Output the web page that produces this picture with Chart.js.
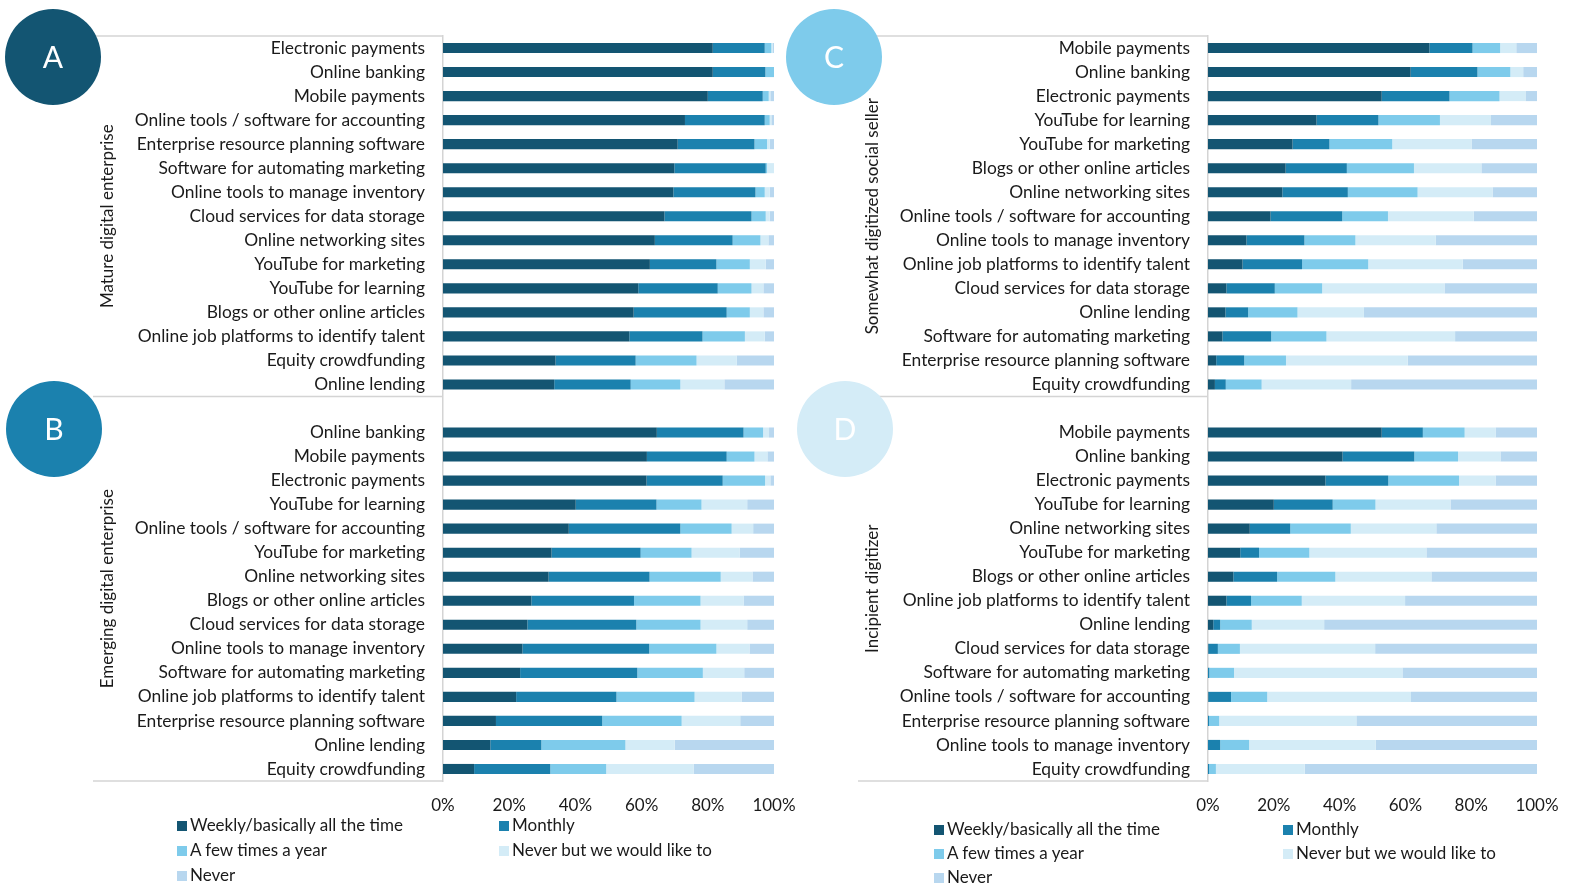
<!DOCTYPE html>
<html>
<head>
<meta charset="utf-8">
<script src="https://cdn.jsdelivr.net/npm/chart.js@4.4.0/dist/chart.umd.min.js"></script>
<style>
  body { margin: 0; background: #fff; width: 1575px; height: 888px; position: relative; overflow: hidden; font-family: Lato, sans-serif; }
  canvas { position: absolute; top: 0; }
  .lg { position: absolute; font-size: 17px; color: #1a1a1a; line-height: 20px; white-space: nowrap; }
  .lg i { display: inline-block; width: 10px; height: 10px; margin-right: 3px; vertical-align: 0px; }
</style>
</head>
<body>
<canvas id="left" width="812" height="888" style="left:0px"></canvas>
<canvas id="right" width="805" height="888" style="left:770px"></canvas>
<div id="legends"></div>
<script>
// series (stack order left to right)
var seriesNames = ['Weekly/basically all the time', 'Monthly', 'A few times a year', 'Never but we would like to', 'Never'];
var seriesColors = ['#135572', '#1b81ae', '#7ecbeb', '#d4ecf7', '#b8d7ef'];
var xTickLabels = ['0%', '20%', '40%', '60%', '80%', '100%'];

// A - Mature digital enterprise
var aCats = ['Electronic payments', 'Online banking', 'Mobile payments', 'Online tools / software for accounting',
  'Enterprise resource planning software', 'Software for automating marketing', 'Online tools to manage inventory',
  'Cloud services for data storage', 'Online networking sites', 'YouTube for marketing', 'YouTube for learning',
  'Blogs or other online articles', 'Online job platforms to identify talent', 'Equity crowdfunding', 'Online lending'];
var aWeekly = [81.5, 81.5, 80.0, 73.1, 70.9, 69.9, 69.6, 66.9, 64.0, 62.5, 59.0, 57.6, 56.3, 34.0, 33.6];
var aMonthly = [15.7, 15.9, 16.6, 24.1, 23.2, 27.6, 24.8, 26.3, 23.5, 20.1, 24.0, 28.1, 22.1, 24.2, 23.1];
var aFew = [2.0, 2.6, 1.8, 1.5, 3.8, 0.4, 2.8, 4.3, 8.4, 10.1, 10.2, 7.0, 12.8, 18.4, 15.0];
var aLike = [0.5, 0, 0.5, 0.5, 0.8, 2.1, 1.5, 1.2, 2.4, 4.8, 3.6, 4.1, 6.0, 12.1, 13.3];
var aNever = [0.3, 0, 1.1, 0.8, 1.3, 0, 1.3, 1.3, 1.7, 2.5, 3.2, 3.2, 2.8, 11.3, 15.0];

// B - Emerging digital enterprise
var bCats = ['Online banking', 'Mobile payments', 'Electronic payments', 'YouTube for learning',
  'Online tools / software for accounting', 'YouTube for marketing', 'Online networking sites',
  'Blogs or other online articles', 'Cloud services for data storage', 'Online tools to manage inventory',
  'Software for automating marketing', 'Online job platforms to identify talent',
  'Enterprise resource planning software', 'Online lending', 'Equity crowdfunding'];
var bWeekly = [64.6, 61.6, 61.5, 40.1, 38.0, 32.8, 31.9, 26.7, 25.5, 24.0, 23.3, 22.1, 16.0, 14.3, 9.4];
var bMonthly = [26.2, 24.1, 23.0, 24.4, 33.7, 26.9, 30.5, 31.0, 32.9, 38.3, 35.4, 30.3, 32.1, 15.4, 23.0];
var bFew = [5.9, 8.4, 12.8, 13.6, 15.5, 15.4, 21.5, 20.1, 19.4, 20.3, 19.8, 23.6, 24.0, 25.4, 16.9];
var bLike = [1.8, 3.9, 1.6, 13.8, 6.5, 14.5, 9.6, 13.0, 14.1, 10.0, 12.5, 14.2, 17.7, 14.9, 26.4];
var bNever = [1.5, 2.0, 1.1, 8.1, 6.3, 10.4, 6.5, 9.2, 8.1, 7.4, 9.0, 9.8, 10.2, 30.0, 24.3];

// C - Somewhat digitized social seller
var cCats = ['Mobile payments', 'Online banking', 'Electronic payments', 'YouTube for learning',
  'YouTube for marketing', 'Blogs or other online articles', 'Online networking sites',
  'Online tools / software for accounting', 'Online tools to manage inventory',
  'Online job platforms to identify talent', 'Cloud services for data storage', 'Online lending',
  'Software for automating marketing', 'Enterprise resource planning software', 'Equity crowdfunding'];
var cWeekly = [67.3, 61.6, 52.8, 33.0, 25.7, 23.6, 22.6, 19.0, 11.7, 10.5, 5.6, 5.3, 4.4, 2.5, 2.1];
var cMonthly = [13.1, 20.3, 20.6, 18.8, 11.2, 18.6, 19.9, 21.8, 17.6, 18.1, 14.7, 6.9, 14.8, 8.5, 3.3];
var cFew = [8.4, 10.0, 15.2, 18.7, 19.1, 20.4, 21.2, 13.9, 15.5, 20.1, 14.4, 15.0, 16.8, 12.7, 10.9];
var cLike = [4.9, 3.9, 7.9, 15.5, 24.1, 20.5, 22.8, 26.1, 24.4, 28.7, 37.2, 20.2, 39.1, 37.0, 27.2];
var cNever = [6.3, 4.2, 3.5, 14.0, 19.9, 16.9, 13.5, 19.2, 30.8, 22.6, 28.1, 52.6, 24.9, 39.3, 56.5];

// D - Incipient digitizer
var dCats = ['Mobile payments', 'Online banking', 'Electronic payments', 'YouTube for learning',
  'Online networking sites', 'YouTube for marketing', 'Blogs or other online articles',
  'Online job platforms to identify talent', 'Online lending', 'Cloud services for data storage',
  'Software for automating marketing', 'Online tools / software for accounting',
  'Enterprise resource planning software', 'Online tools to manage inventory', 'Equity crowdfunding'];
var dWeekly = [52.8, 40.9, 35.7, 20.0, 12.7, 9.8, 7.7, 5.6, 1.6, 0.1, 0, 0.1, 0, 0, 0];
var dMonthly = [12.5, 21.8, 19.1, 17.9, 12.3, 5.7, 13.3, 7.5, 2.1, 2.9, 0.4, 6.9, 0.3, 3.7, 0.3];
var dFew = [12.7, 13.3, 21.5, 13.0, 18.4, 15.3, 17.7, 15.4, 9.6, 6.7, 7.5, 11.0, 3.1, 8.8, 2.1];
var dLike = [9.4, 12.9, 11.1, 22.8, 26.0, 35.6, 29.2, 31.4, 22.0, 41.1, 51.2, 43.7, 41.7, 38.5, 27.0];
var dNever = [12.6, 11.1, 12.6, 26.3, 30.6, 33.6, 32.1, 40.1, 64.7, 49.2, 40.9, 38.3, 54.9, 49.0, 70.6];

Chart.defaults.font.family = 'Lato, sans-serif';
Chart.defaults.font.size = 17;
Chart.defaults.color = '#1a1a1a';

var lineColor = '#d4d4d4';

// draws group lines, rotated group names and the lettered circles
var groupDecor = {
  id: 'groupDecor',
  afterDraw: function (chart, args, o) {
    var ctx = chart.ctx;
    var y = chart.scales.y;
    var area = chart.chartArea;
    var sep = (y.getPixelForValue(14) + y.getPixelForValue(15)) / 2;
    ctx.save();
    ctx.strokeStyle = lineColor;
    ctx.lineWidth = 1.5;
    [area.top, sep, area.bottom].forEach(function (py) {
      ctx.beginPath();
      ctx.moveTo(o.lineLeft, py);
      ctx.lineTo(area.left, py);
      ctx.stroke();
    });
    ctx.fillStyle = '#1a1a1a';
    ctx.font = '17px Lato, sans-serif';
    ctx.textAlign = 'center';
    ctx.textBaseline = 'middle';
    var mids = [(area.top + sep) / 2, (sep + area.bottom) / 2];
    o.groups.forEach(function (g, i) {
      ctx.save();
      ctx.translate(o.groupX, mids[i]);
      ctx.rotate(-Math.PI / 2);
      ctx.fillText(g, 0, 0);
      ctx.restore();
    });
    o.circles.forEach(function (c) {
      ctx.beginPath();
      ctx.arc(c.x, c.y, 48, 0, Math.PI * 2);
      ctx.fillStyle = c.color;
      ctx.fill();
      ctx.fillStyle = '#ffffff';
      ctx.font = '30px Lato, sans-serif';
      ctx.fillText(c.letter, c.x, c.y + 1);
    });
    ctx.restore();
  }
};

function buildChart(id, topCats, topVals, botCats, botVals, yWidth, decor) {
  var labels = topCats.concat([''], botCats);
  var datasets = seriesNames.map(function (name, i) {
    return {
      label: name,
      data: topVals[i].concat([null], botVals[i]),
      backgroundColor: seriesColors[i],
      borderWidth: 0,
      barPercentage: 0.42,
      categoryPercentage: 1
    };
  });
  return new Chart(document.getElementById(id), {
    type: 'bar',
    data: { labels: labels, datasets: datasets },
    options: {
      indexAxis: 'y',
      responsive: false,
      animation: false,
      layout: { padding: { top: 36, bottom: 77, left: 0, right: decor.padRight } },
      plugins: { legend: { display: false }, tooltip: { enabled: false }, groupDecor: decor },
      scales: {
        x: {
          stacked: true, min: 0, max: 100,
          grid: { display: false, drawTicks: false },
          border: { display: false },
          ticks: { stepSize: 20, padding: 14, callback: function (v, i) { return xTickLabels[i]; } },
          afterFit: function (s) { s.height = 30; }
        },
        y: {
          stacked: true,
          grid: { display: false, drawTicks: false },
          border: { display: true, color: lineColor, width: 1.5 },
          ticks: { padding: 18, autoSkip: false, font: { size: 17.4 } },
          afterFit: function (s) { s.width = yWidth; }
        }
      }
    },
    plugins: [groupDecor]
  });
}

buildChart('left',
  aCats, [aWeekly, aMonthly, aFew, aLike, aNever],
  bCats, [bWeekly, bMonthly, bFew, bLike, bNever],
  443,
  {
    padRight: 38, lineLeft: 93, groupX: 108,
    groups: ['Mature digital enterprise', 'Emerging digital enterprise'],
    circles: [{ x: 53, y: 57, letter: 'A', color: '#135572' }, { x: 54, y: 429, letter: 'B', color: '#1b81ae' }]
  });

buildChart('right',
  cCats, [cWeekly, cMonthly, cFew, cLike, cNever],
  dCats, [dWeekly, dMonthly, dFew, dLike, dNever],
  438,
  {
    padRight: 38, lineLeft: 88, groupX: 103,
    groups: ['Somewhat digitized social seller', 'Incipient digitizer'],
    circles: [{ x: 64, y: 57, letter: 'C', color: '#7ecbeb' }, { x: 75, y: 429, letter: 'D', color: '#d4ecf7' }]
  });

// legends, two columns under each half
var legendSpots = [
  [[177, 825], [499, 825], [177, 850], [499, 850], [177, 875]],
  [[934, 829], [1283, 829], [934, 853], [1283, 853], [934, 877]]
];
var holder = document.getElementById('legends');
legendSpots.forEach(function (spots) {
  seriesNames.forEach(function (name, i) {
    var d = document.createElement('div');
    d.className = 'lg';
    d.style.left = spots[i][0] + 'px';
    d.style.top = (spots[i][1] - 10) + 'px';
    d.innerHTML = '<i style="background:' + seriesColors[i] + '"></i>' + name;
    holder.appendChild(d);
  });
});
</script>
</body>
</html>
